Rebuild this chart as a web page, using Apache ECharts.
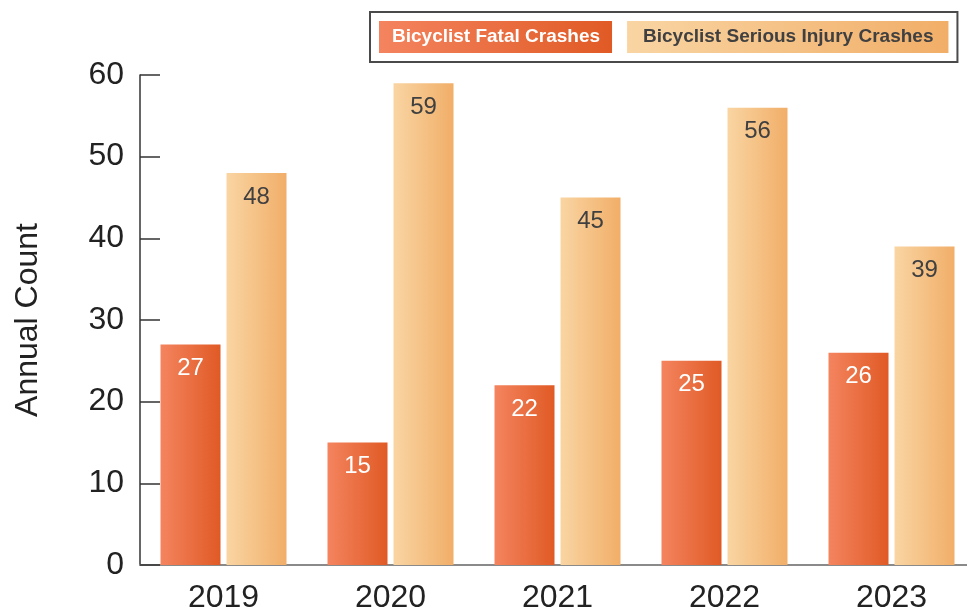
<!DOCTYPE html>
<html>
<head>
<meta charset="utf-8">
<script src="https://cdn.jsdelivr.net/npm/echarts@6/dist/echarts.min.js"></script>
<style>html,body{margin:0;padding:0;background:#fff;overflow:hidden}#c{width:967px;height:609px}</style>
</head>
<body>
<div id="c"></div>
<script>
const years = ['2019', '2020', '2021', '2022', '2023'];
const fatalCrashes = [27, 15, 22, 25, 26];
const seriousInjuryCrashes = [48, 59, 45, 56, 39];
const seriesNames = ['Bicyclist Fatal Crashes', 'Bicyclist Serious Injury Crashes'];
const yTicks = { min: 0, max: 60, interval: 10 };

const FONT = '"Liberation Sans", Arial, sans-serif';
function grad(c1, c2) {
  return { type: 'linear', x: 0, y: 0, x2: 1, y2: 0, colorStops: [{ offset: 0, color: c1 }, { offset: 1, color: c2 }] };
}
const fatalGrad = () => grad('#F4845F', '#E05A25');
const seriousGrad = () => grad('#F9D5A3', '#F1AE68');

const chart = echarts.init(document.getElementById('c'), null, { renderer: 'canvas' });
chart.setOption({
  animation: false,
  backgroundColor: '#fff',
  textStyle: { fontFamily: FONT },
  legend: {
    left: 370, top: 12,
    padding: [9, 9, 9, 4],
    itemGap: 10,
    itemWidth: 0, itemHeight: 0,
    icon: 'rect',
    selectedMode: false,
    borderColor: '#4a4a4a', borderWidth: 2, backgroundColor: '#fff',
    data: [
      { name: seriesNames[0], textStyle: { color: '#fff', fontWeight: 'bold', fontSize: 19, fontFamily: FONT, lineHeight: 20, backgroundColor: fatalGrad(), padding: [6, 12, 6, 13] } },
      { name: seriesNames[1], textStyle: { color: '#404040', fontWeight: 'bold', fontSize: 19, fontFamily: FONT, lineHeight: 20, backgroundColor: seriousGrad(), padding: [6, 15, 6, 16] } }
    ]
  },
  grid: { left: 140, top: 75, right: -8, bottom: 44, containLabel: false, outerBoundsMode: 'none' },
  xAxis: {
    type: 'category', data: years,
    axisLine: { show: true, lineStyle: { color: '#8a8a8a', width: 2 } },
    axisTick: { show: false },
    axisLabel: { fontSize: 32, color: '#222', margin: 17, fontFamily: FONT }
  },
  yAxis: {
    type: 'value', min: yTicks.min, max: yTicks.max, interval: yTicks.interval,
    name: 'Annual Count', nameLocation: 'middle', nameRotate: 90, nameGap: 96,
    nameTextStyle: { fontSize: 32, color: '#222', fontFamily: FONT },
    axisLine: { show: true, lineStyle: { color: '#333', width: 1.5 } },
    axisTick: { show: true, inside: true, length: 20, lineStyle: { color: '#333', width: 1.5 } },
    splitLine: { show: false },
    axisLabel: { fontSize: 32, color: '#222', margin: 16, fontFamily: FONT }
  },
  series: [
    {
      name: seriesNames[0], type: 'bar', data: fatalCrashes,
      barWidth: 60, barGap: '10%',
      itemStyle: { color: fatalGrad() },
      label: { show: true, position: 'insideTop', distance: 12, fontSize: 24, color: '#fff', fontFamily: FONT }
    },
    {
      name: seriesNames[1], type: 'bar', data: seriousInjuryCrashes,
      barWidth: 60, barGap: '10%',
      itemStyle: { color: seriousGrad() },
      label: { show: true, position: 'insideTop', distance: 12, fontSize: 24, color: '#404040', fontFamily: FONT }
    }
  ]
});
</script>
</body>
</html>
